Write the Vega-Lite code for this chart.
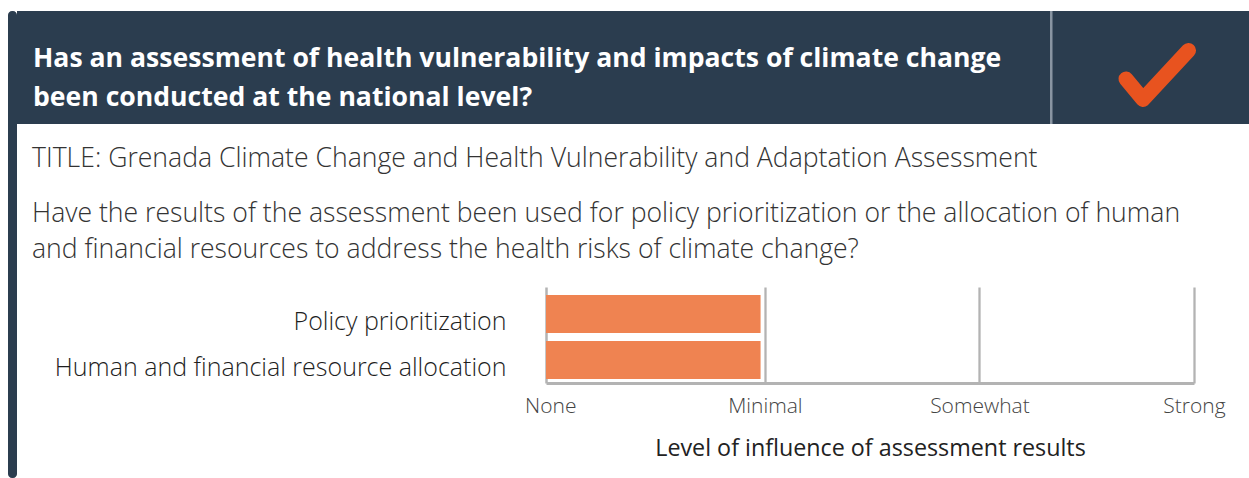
{
  "$schema": "https://vega.github.io/schema/vega-lite/v6.json",
  "padding": {"left": 8, "top": 11, "right": 0, "bottom": 0},
  "background": "white",
  "spacing": 0,
  "config": {"view": {"stroke": null}, "font": "Open Sans"},
  "hconcat": [
    {
      "width": 9,
      "height": 467,
      "view": {"fill": "#2b3d4f", "stroke": null, "cornerRadius": 4},
      "data": {"values": [{}]},
      "mark": {"type": "text"},
      "encoding": {"text": {"value": ""}}
    },
    {
      "spacing": 0,
      "vconcat": [
        {
          "spacing": 0,
          "bounds": "flush",
          "hconcat": [
            {
              "width": 1033,
              "height": 113,
              "view": {"fill": "#2b3d4f", "stroke": null},
              "data": {"values": [
                {"line": 1, "text": "Has an assessment of health vulnerability and impacts of climate change"},
                {"line": 2, "text": "been conducted at the national level?"}
              ]},
              "mark": {"type": "text", "align": "left", "baseline": "alphabetic", "dx": 16, "dy": 19, "font": "Open Sans", "fontWeight": "bold", "fontSize": 26.6, "color": "#ffffff"},
              "encoding": {
                "x": {"datum": 0, "type": "quantitative", "scale": {"domain": [0, 1]}, "axis": null},
                "y": {"field": "line", "type": "ordinal", "scale": {"type": "point", "padding": 0.96}, "axis": null},
                "text": {"field": "text"}
              }
            },
            {
              "width": 199,
              "height": 113,
              "view": {"fill": "#2b3d4f", "stroke": null},
              "layer": [
                {
                  "data": {"values": [{"divider": 0}]},
                  "mark": {"type": "rect", "color": "#8995a2"},
                  "encoding": {
                    "x": {"field": "divider", "type": "quantitative", "scale": {"domain": [0, 1]}, "axis": null},
                    "x2": {"datum": 0.0126}
                  }
                },
                {
                  "data": {"values": [{"status": "Yes"}]},
                  "mark": {"type": "point", "shape": "M-0.977,0.125L-0.445,0.766L0.977,-0.766", "size": 4096, "filled": false, "strokeWidth": 15, "strokeCap": "round", "strokeJoin": "round", "color": "#e8531f", "opacity": 1},
                  "encoding": {
                    "x": {"datum": 0.539, "type": "quantitative", "scale": {"domain": [0, 1]}, "axis": null},
                    "y": {"datum": 0.434, "type": "quantitative", "scale": {"domain": [0, 1]}, "axis": null}
                  }
                }
              ]
            }
          ]
        },
        {
          "width": 1232,
          "height": 163,
          "data": {"values": [
            {"line": 1, "text": "TITLE: Grenada Climate Change and Health Vulnerability and Adaptation Assessment"},
            {"line": 2, "text": "Have the results of the assessment been used for policy prioritization or the allocation of human\nand financial resources to address the health risks of climate change?"}
          ]},
          "mark": {"type": "text", "align": "left", "baseline": "alphabetic", "dx": 15, "dy": -11, "fontSize": 26.6, "fontWeight": 300, "lineBreak": "\n", "lineHeight": 36, "color": "#333333"},
          "encoding": {
            "x": {"datum": 0, "type": "quantitative", "scale": {"domain": [0, 1]}, "axis": null},
            "y": {"field": "line", "type": "ordinal", "scale": {"type": "point", "padding": 1.38}, "axis": null},
            "text": {"field": "text"}
          }
        },
        {
          "spacing": 0,
          "bounds": "flush",
          "hconcat": [
            {
              "width": 529,
              "height": 96,
              "data": {"values": [{}]},
              "mark": {"type": "text"},
              "encoding": {"text": {"value": ""}}
            },
            {
              "width": 648,
              "height": 96,
              "data": {"values": [
                {"area": "Policy prioritization", "influence": 0.98},
                {"area": "Human and financial resource allocation", "influence": 0.98}
              ]},
              "mark": {"type": "bar", "color": "#ef8351"},
              "encoding": {
                "y": {
                  "field": "area", "type": "nominal", "sort": null,
                  "scale": {"paddingInner": 0.174, "paddingOuter": 0.13, "align": 0.667},
                  "axis": {"title": null, "domain": true, "domainColor": "#b3b3b3", "domainWidth": 2.5, "ticks": false, "grid": false, "labelPadding": 40, "labelFontSize": 25, "labelFontWeight": 300, "labelColor": "#1e1e1e", "labelOffset": 8, "labelLimit": 700}
                },
                "x": {
                  "field": "influence", "type": "quantitative",
                  "scale": {"domain": [-0.02, 3], "nice": false, "zero": false},
                  "axis": {
                    "values": [0, 1, 2, 3],
                    "labelExpr": "['None', 'Minimal', 'Somewhat', 'Strong'][datum.value]",
                    "title": "Level of influence of assessment results",
                    "grid": true, "gridColor": "#b3b3b3", "gridWidth": 2.3,
                    "gridOpacity": {"condition": {"test": "datum.value === 0", "value": 0}, "value": 1},
                    "domainColor": "#b3b3b3", "domainWidth": 3,
                    "ticks": false, "labelFlush": false, "labelBaseline": "top",
                    "labelPadding": 12, "labelFontSize": 21, "labelFontWeight": 300, "labelColor": "#444444",
                    "titleFontSize": 23.3, "titleFontWeight": 400, "titleColor": "#222222", "titlePadding": 21
                  }
                },
                "x2": {"datum": -0.02}
              }
            }
          ]
        }
      ]
    }
  ]
}
